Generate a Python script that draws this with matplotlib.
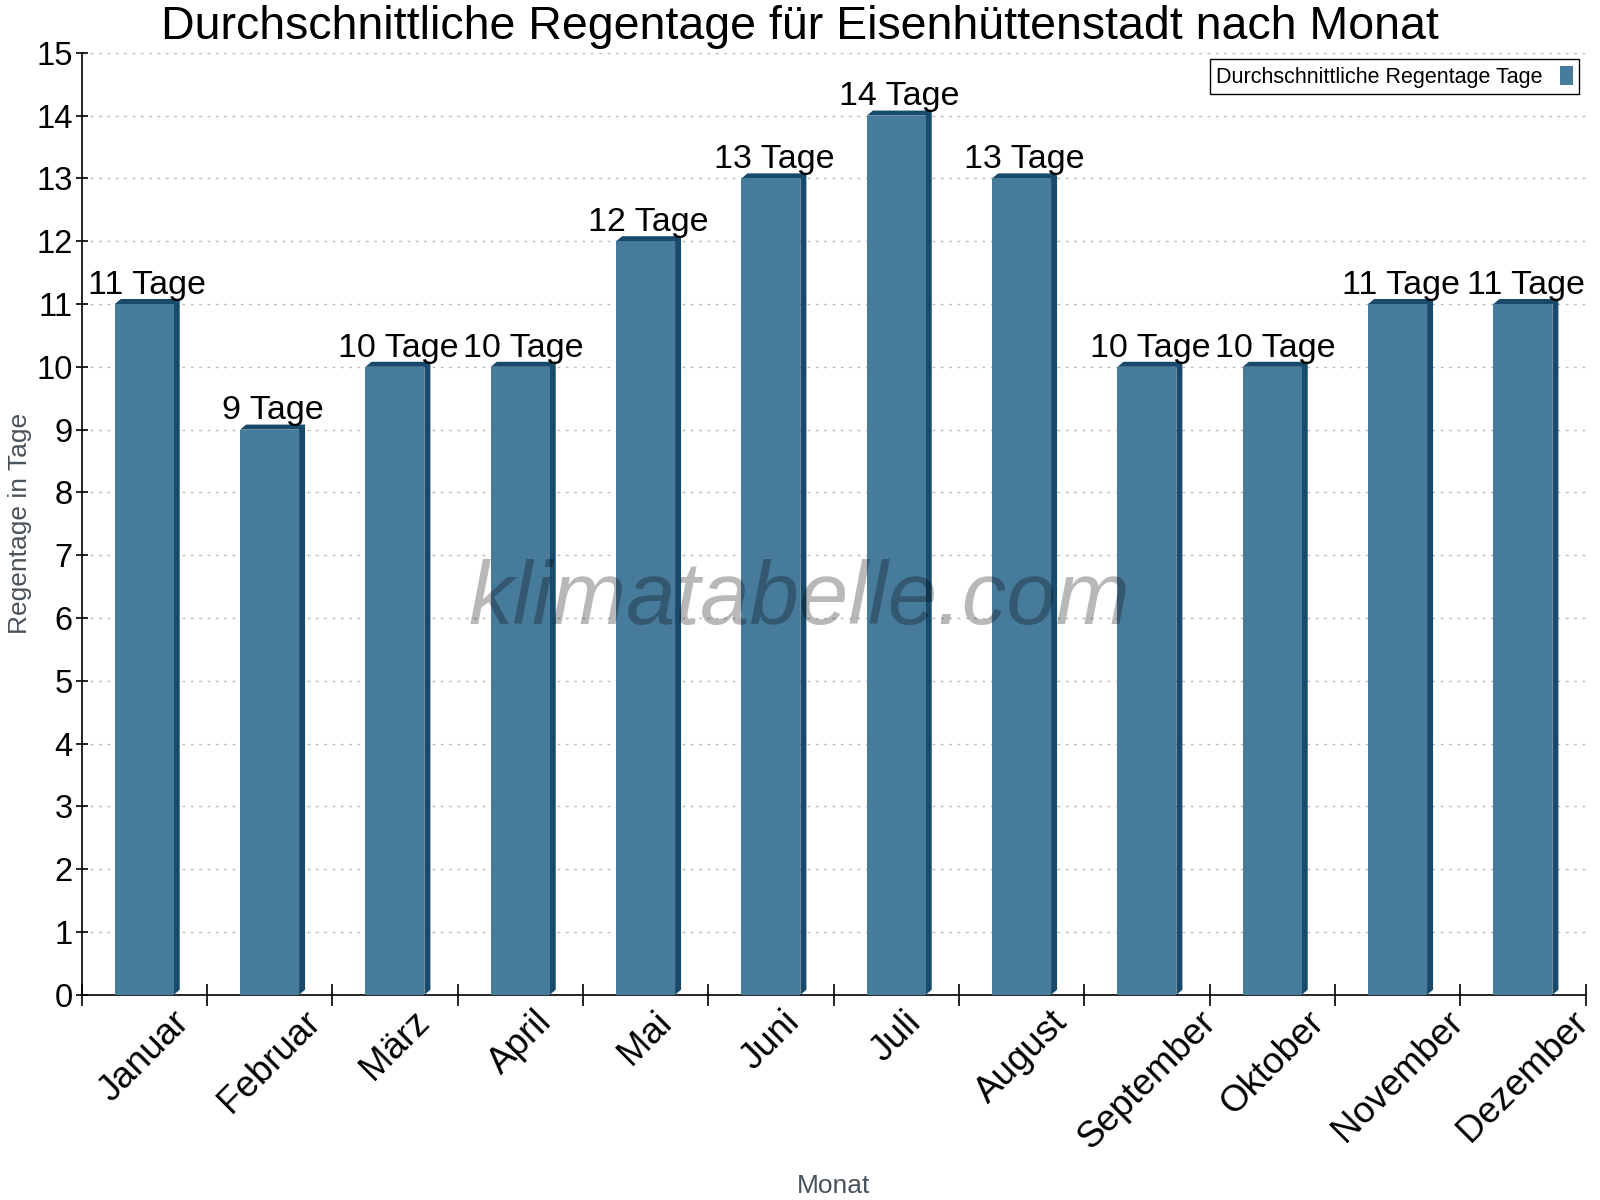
import matplotlib.pyplot as plt
from matplotlib.patches import Polygon
import numpy as np

plt.rcParams['font.family'] = ['Liberation Sans', 'DejaVu Sans']

# Daten
monate = ["Januar", "Februar", "März", "April", "Mai", "Juni", "Juli",
          "August", "September", "Oktober", "November", "Dezember"]
regentage = [11, 9, 10, 10, 12, 13, 14, 13, 10, 10, 11, 11]

farbe_front = '#477b9c'
farbe_seite = '#174a6b'

fig = plt.figure(figsize=(16, 12), dpi=100)
ax = fig.add_axes([0.051, 0.171, 0.940, 0.785])

x = np.arange(len(monate))
breite = 0.47
# Tiefe des 3D-Effekts in Dateneinheiten (ca. 6 px)
dx = 0.048
dy = 0.08

for xi, h in zip(x, regentage):
    l = xi - breite / 2
    r = xi + breite / 2
    pts = [(l, h), (l + dx, h + dy), (r + dx, h + dy), (r + dx, dy), (r, 0), (r, h)]
    ax.add_patch(Polygon(pts, closed=True, facecolor=farbe_seite, edgecolor='none', zorder=3))

balken = ax.bar(x, regentage, width=breite, color=farbe_front, zorder=4,
                label='Durchschnittliche Regentage Tage')

for xi, h in zip(x, regentage):
    ax.text(xi + dx / 2, h + 0.05, f"{h} Tage", ha='center', va='bottom',
            fontsize=24.5, color='black', zorder=6)

ax.set_xlim(-0.5, 11.5)
ax.set_ylim(0, 15)
ax.set_yticks(range(0, 16))
ax.tick_params(axis='y', labelsize=23.5, direction='inout', length=9, width=1.2, pad=2)
ax.set_xticks(x)
ax.set_xticklabels(monate, rotation=45, ha='center', va='top', fontsize=26.5)
ax.set_xticks(np.arange(-0.5, 12, 1), minor=True)
ax.tick_params(axis='x', which='major', length=0, pad=7)
ax.tick_params(axis='x', which='minor', direction='inout', length=16, width=1.2)

ax.grid(axis='y', linestyle=(0, (2, 4)), color='#bbbbbb', linewidth=1, zorder=0)
for s in ['top', 'right']:
    ax.spines[s].set_visible(False)
for s in ['left', 'bottom']:
    ax.spines[s].set_linewidth(1.2)

ax.set_ylabel('Regentage in Tage', fontsize=19, color='#4a525a')
ax.yaxis.set_label_coords(-0.033, 0.5)
ax.set_xlabel('Monat', fontsize=19, color='#4a525a')
ax.xaxis.set_label_coords(0.5, -0.19)

fig.suptitle('Durchschnittliche Regentage für Eisenhüttenstadt nach Monat',
             fontsize=33.5, x=0.5, y=0.996, va='top')

ax.text(0.477, 0.418, 'klimatabelle.com', transform=ax.transAxes, ha='center', va='center',
        fontsize=64, style='italic', color='black', alpha=0.28, zorder=7)

leg = ax.legend(loc='upper right', bbox_to_anchor=(1.0, 1.0), fontsize=15.5,
                markerfirst=False, fancybox=False, framealpha=1, edgecolor='black',
                handlelength=0.6, handleheight=1.0, borderpad=0.3, borderaxespad=0.3)
leg.get_frame().set_linewidth(1.0)
leg.set_zorder(10)

fig.savefig('out.png', dpi=100)
